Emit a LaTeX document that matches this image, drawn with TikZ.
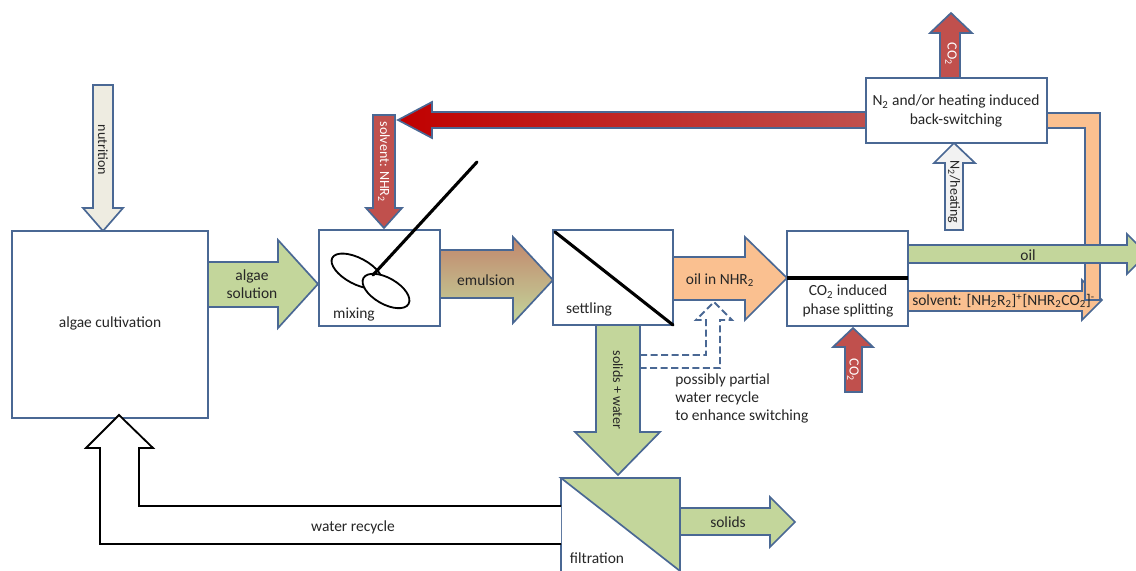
\documentclass[tikz,border=0pt]{standalone}
\usepackage{fontspec}
\setmainfont{Carlito}
\definecolor{frame}{HTML}{4A6894}
\definecolor{leaf}{HTML}{C3D69B}
\definecolor{brick}{HTML}{C0504D}
\definecolor{deepred}{HTML}{C00000}
\definecolor{peach}{HTML}{FAC090}
\definecolor{sand}{HTML}{EEECE1}
\definecolor{frost}{HTML}{F2F2F2}
\definecolor{ink}{HTML}{262626}
\begin{document}
\begin{tikzpicture}[x=0.025cm, y=-0.025cm, font=\fontsize{11}{13}\selectfont,
  box/.style={draw=frame, line width=1.2pt, fill=white},
  flow/.style={draw=frame, line width=1.2pt, line join=miter},
  lbl/.style={text=ink, inner sep=0pt},
  vlbl/.style={lbl, rotate=-90, font=\fontsize{10}{12}\selectfont},
  bar/.style={line width=2.2pt, line cap=round}]

\useasboundingbox (0,0) rectangle (1136,571);

% nutrition feed
\draw[flow, fill=sand] (93,85) -- (113,85) -- (113,208) -- (123,208) -- (103,231) -- (83,208) -- (93,208) -- cycle;
\node[vlbl] (nutri) at (103,150) {nutrition};

% algae cultivation
\draw[box] (12,231) rectangle (208,418);
\node[lbl] (cult) at (110,323) {algae cultivation};

\draw[flow, fill=leaf] (208,262) -- (278,262) -- (278,240) -- (318,284) -- (278,328) -- (278,307) -- (208,307) -- cycle;
\node[lbl, align=center] (algsol) at (252,284) {algae\\solution};

% mixing
\draw[box] (319,230) rectangle (440,326);
\node[lbl] (mixlbl) at (354,315) {mixing};
\draw[line width=1.3pt, rotate around={-28:(357,271)}] (357,271) ellipse [x radius=28, y radius=13];
\draw[line width=1.3pt, fill=white, rotate around={-30:(386,291)}] (386,291) ellipse [x radius=26, y radius=13];
\draw[bar] (373,275) -- (477,162);

\draw[flow, fill=brick] (373,115) -- (395,115) -- (395,208) -- (402,208) -- (384,228) -- (366,208) -- (373,208) -- cycle;
\node[vlbl, text=white] (solvin) at (384,162) {solvent: NHR\textsubscript{2}};

\draw[flow, top color=brick!60!leaf, bottom color=leaf] (440,250) -- (513,250) -- (513,237) -- (553,280) -- (513,323) -- (513,298) -- (440,298) -- cycle;
\node[lbl] (emul) at (486,280) {emulsion};

% settling
\draw[box] (553,230) rectangle (673,325);
\draw[bar] (555,232) -- (673,325);
\node[lbl] (settlbl) at (589,309) {settling};

\draw[flow, fill=peach] (673,257) -- (745,257) -- (745,237) -- (787,278) -- (745,320) -- (745,300) -- (673,300) -- cycle;
\node[lbl] (oilnhr) at (720,280) {oil in NHR\textsubscript{2}};

\draw[flow, fill=leaf] (596,325) -- (640,325) -- (640,432) -- (660,432) -- (618,475) -- (575,432) -- (596,432) -- cycle;
\node[vlbl] (solwat) at (618,390) {solids + water};

% partial water recycle
\draw[flow, dash pattern=on 5pt off 2.5pt, line width=1.4pt] (640,355) -- (706,355) -- (706,320) -- (696,320) -- (714,302) -- (732,320) -- (720,320) -- (720,368) -- (640,368);
\node[lbl, align=left, anchor=north west] (recyc) at (675,373) {possibly partial\\water recycle\\to enhance switching};

% phase splitting
\draw[box] (787,231) rectangle (908,326);
\draw[bar, line cap=butt] (787,278) -- (908,278);
\node[lbl, align=center] (splitlbl) at (848,301) {CO\textsubscript{2} induced\\phase splitting};

\draw[flow, fill=brick] (845,392) -- (862,392) -- (862,347) -- (873,347) -- (853,328) -- (833,347) -- (845,347) -- cycle;
\node[vlbl, text=white] (co2in) at (853,370) {CO\textsubscript{2}};

\draw[flow, fill=peach] (908,291) -- (1082,291) -- (1082,280) -- (1102,300) -- (1082,320) -- (1082,311) -- (908,311) -- cycle;
\draw[flow, fill=peach] (1047,113) -- (1100,113) -- (1100,300) -- (1085,300) -- (1085,128) -- (1047,128) -- cycle;
\node[lbl, anchor=west] (solvout) at (912,301) {solvent: [NH\textsubscript{2}R\textsubscript{2}]\textsuperscript{+}[NHR\textsubscript{2}CO\textsubscript{2}]\textsuperscript{-}};

\draw[flow, fill=leaf] (908,245) -- (1127,245) -- (1127,234) -- (1147,254) -- (1127,274) -- (1127,263) -- (908,263) -- cycle;
\node[lbl] (oil) at (1028,255) {oil};

% back-switching
\draw[flow, left color=deepred, right color=brick] (866,112) -- (432,112) -- (432,102) -- (398,120) -- (432,138) -- (432,128) -- (866,128) -- cycle;

\draw[flow, fill=brick] (940,78) -- (960,78) -- (960,33) -- (972,33) -- (951,13) -- (930,33) -- (940,33) -- cycle;
\node[vlbl, text=white] (co2out) at (951,54) {CO\textsubscript{2}};

\draw[flow, fill=frost] (945,230) -- (963,230) -- (963,163) -- (975,163) -- (954,143) -- (934,163) -- (945,163) -- cycle;
\node[vlbl] (n2heat) at (954,192) {N\textsubscript{2}/heating};

\draw[box] (866,78) rectangle (1047,143);
\node[lbl, align=center] (backlbl) at (956,111) {N\textsubscript{2} and/or heating induced\\back-switching};

% filtration
\draw[box] (561,478) rectangle (680,585);
\draw[flow, fill=leaf] (561,478) -- (680,478) -- (680,571) -- cycle;
\node[lbl] (filtlbl) at (597,558) {filtration};

\draw[flow, fill=leaf] (680,508) -- (770,508) -- (770,497) -- (795,522) -- (770,547) -- (770,535) -- (680,535) -- cycle;
\node[lbl] (solids) at (728,522) {solids};

\draw[line width=1.3pt, fill=white] (561,506) -- (139,506) -- (139,448) -- (153,448) -- (119,415) -- (86,448) -- (100,448) -- (100,544) -- (561,544);
\node[lbl] (watrec) at (353,527) {water recycle};

\end{tikzpicture}
\end{document}
